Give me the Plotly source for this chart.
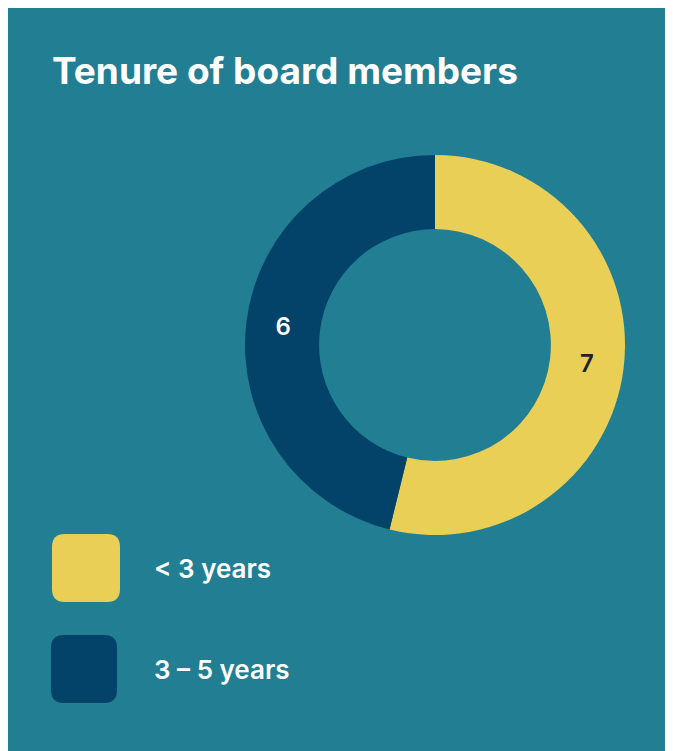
import plotly.graph_objects as go

categories = ["< 3 years", "3 – 5 years"]
values = [7, 6]
colors = ["#E9CF55", "#03436A"]
text_colors = ["#222222", "#FFFFFF"]
title = "Tenure of board members"

# The page body adds an 8px margin; work in page pixels and shift.
OFF = 8
W, H = 673 - OFF, 751 - OFF
BG = "#227F93"

def px_x(x):
    return (x - OFF) / W

def px_y(y):
    return 1 - (y - OFF) / H

def rounded_rect(x0, y0, x1, y1, r):
    def P(x, y):
        return f"{px_x(x):.5f},{px_y(y):.5f}"
    return (f"M {P(x0 + r, y0)} L {P(x1 - r, y0)} Q {P(x1, y0)} {P(x1, y0 + r)} "
            f"L {P(x1, y1 - r)} Q {P(x1, y1)} {P(x1 - r, y1)} "
            f"L {P(x0 + r, y1)} Q {P(x0, y1)} {P(x0, y1 - r)} "
            f"L {P(x0, y0 + r)} Q {P(x0, y0)} {P(x0 + r, y0)} Z")

fig = go.Figure(go.Pie(
    labels=categories,
    values=values,
    marker=dict(colors=colors, line=dict(width=0)),
    hole=0.61,
    sort=False,
    direction="clockwise",
    rotation=0,
    textinfo="value",
    textposition="inside",
    insidetextorientation="horizontal",
    textfont=dict(family="Inter", size=24, color=text_colors, weight=600),
    domain=dict(x=[px_x(245), px_x(625)], y=[px_y(535), px_y(155)]),
    showlegend=False,
    hoverinfo="label+value",
))

shapes = [dict(type="rect", xref="paper", yref="paper", x0=0, x1=1, y0=0, y1=1,
               fillcolor=BG, line=dict(width=0), layer="below")]
annotations = [dict(text=f"<b>{title}</b>", xref="paper", yref="paper", x=px_x(50), y=px_y(71),
                    xanchor="left", yanchor="middle", showarrow=False,
                    font=dict(family="Inter", size=37, color="white"))]

swatches = [(52, 534, 120, 602), (51, 635, 117, 703)]
for i, cat in enumerate(categories):
    x0, y0, x1, y1 = swatches[i]
    shapes.append(dict(type="path", xref="paper", yref="paper", path=rounded_rect(x0, y0, x1, y1, 13),
                       fillcolor=colors[i], line=dict(width=0), layer="above"))
    annotations.append(dict(text=cat, xref="paper", yref="paper", x=px_x(152), y=px_y((y0 + y1) / 2),
                            xanchor="left", yanchor="middle", showarrow=False,
                            font=dict(family="Inter", size=26, color="white", weight=600)))

fig.update_layout(
    width=W, height=H,
    margin=dict(l=0, r=0, t=0, b=0),
    paper_bgcolor=BG,
    shapes=shapes,
    annotations=annotations,
)

fig.write_html("out.html")
